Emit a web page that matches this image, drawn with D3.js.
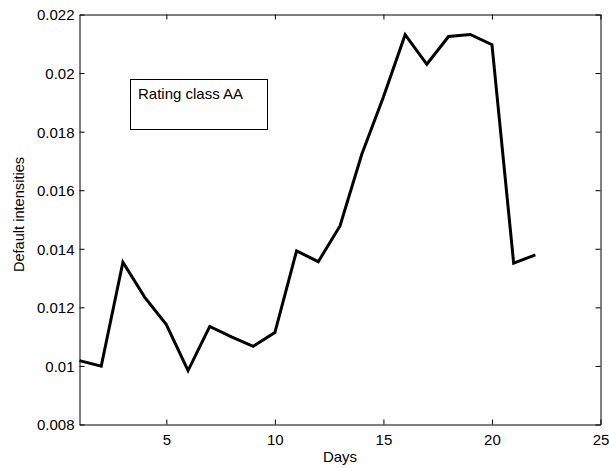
<!DOCTYPE html>
<html>
<head>
<meta charset="utf-8">
<script src="https://cdn.jsdelivr.net/npm/d3@7"></script>
<style>
  html, body { margin: 0; padding: 0; background: #fff; }
  svg { display: block; }
  text { font-family: "Liberation Sans", Arial, Helvetica, sans-serif; fill: #000; }
</style>
</head>
<body>
<svg id="chart" width="609" height="468"></svg>
<script>
// Daily default intensities, rating class AA
const days = [1, 2, 3, 4, 5, 6, 7, 8, 9, 10, 11, 12, 13, 14, 15, 16, 17, 18, 19, 20, 21, 22];
const intensities = [0.01018, 0.00999, 0.01354, 0.01235, 0.01141, 0.00984, 0.01135, 0.01099,
                     0.01067, 0.01114, 0.01393, 0.01356, 0.01478, 0.01722, 0.01918, 0.02131,
                     0.02030, 0.02125, 0.02132, 0.02097, 0.01351, 0.01379];
const xTicks = [5, 10, 15, 20, 25];
const yTicks = [0.008, 0.010, 0.012, 0.014, 0.016, 0.018, 0.020, 0.022];
const xDomain = [1, 25];
const yDomain = [0.008, 0.022];
const legendText = "Rating class AA";
const xLabel = "Days";
const yLabel = "Default intensities";

const svg = d3.select("#chart");
const box = { left: 79.5, right: 600.5, top: 14.5, bottom: 424.5 };
const fontSize = "15px";

const x = d3.scaleLinear().domain(xDomain).range([box.left, box.right]);
const y = d3.scaleLinear().domain(yDomain).range([box.bottom, box.top]);

const fmtY = d => d3.format("~g")(+d.toFixed(3));

// Bottom axis with labels, inward ticks
const xAxis = svg.append("g")
  .attr("transform", `translate(0,${box.bottom})`)
  .call(d3.axisBottom(x).tickValues(xTicks).tickSizeInner(-5).tickSizeOuter(0).tickPadding(9.5));
// Left axis with labels, inward ticks
const yAxis = svg.append("g")
  .attr("transform", `translate(${box.left},0)`)
  .call(d3.axisLeft(y).tickValues(yTicks).tickFormat(fmtY).tickSizeInner(-5).tickSizeOuter(0).tickPadding(5));
// Mirrored ticks on top and right, no labels
const xTop = svg.append("g")
  .attr("transform", `translate(0,${box.top})`)
  .call(d3.axisTop(x).tickValues(xTicks).tickSizeInner(-5).tickSizeOuter(0).tickFormat(""));
const yRight = svg.append("g")
  .attr("transform", `translate(${box.right},0)`)
  .call(d3.axisRight(y).tickValues(yTicks).tickSizeInner(-5).tickSizeOuter(0).tickFormat(""));

[xAxis, yAxis, xTop, yRight].forEach(g => {
  g.select(".domain").attr("stroke", "#000").attr("stroke-width", 1);
  g.selectAll(".tick line").attr("stroke", "#000").attr("stroke-width", 1);
  g.selectAll(".tick text")
    .style("font-family", '"Liberation Sans", Arial, sans-serif')
    .style("font-size", fontSize)
    .attr("fill", "#000");
});
yAxis.selectAll(".tick text").attr("dy", "0.36em");

// Data line
const line = d3.line()
  .x((d, i) => x(days[i]))
  .y(d => y(d));
svg.append("path")
  .datum(intensities)
  .attr("d", line)
  .attr("fill", "none")
  .attr("stroke", "#000")
  .attr("stroke-width", 3)
  .attr("stroke-linejoin", "miter");

// Legend box
const legend = svg.append("g");
legend.append("rect")
  .attr("x", 130.5).attr("y", 79.5)
  .attr("width", 137).attr("height", 50)
  .attr("fill", "#fff").attr("stroke", "#000").attr("stroke-width", 1);
legend.append("text")
  .attr("x", 138).attr("y", 99)
  .style("font-size", fontSize)
  .text(legendText);

// Axis titles
svg.append("text")
  .attr("x", (box.left + box.right) / 2)
  .attr("y", 462)
  .attr("text-anchor", "middle")
  .style("font-size", fontSize)
  .text(xLabel);
svg.append("text")
  .attr("transform", `translate(24,${(box.top + box.bottom) / 2 - 5}) rotate(-90)`)
  .attr("text-anchor", "middle")
  .style("font-size", "14.6px")
  .text(yLabel);
</script>
</body>
</html>
